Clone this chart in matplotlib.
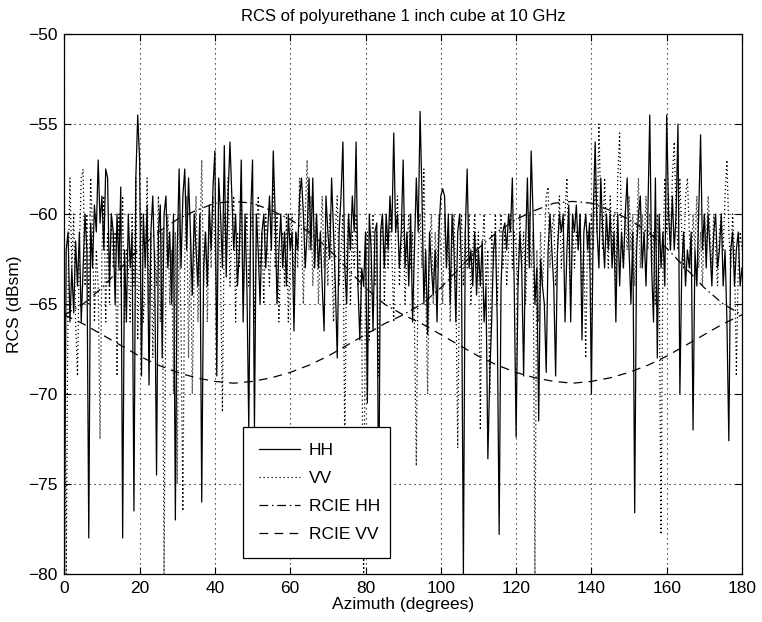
import numpy as np
import matplotlib
matplotlib.use("Agg")
import matplotlib.pyplot as plt

plt.rcParams['font.family'] = ['Liberation Sans', 'DejaVu Sans']

title = "RCS of polyurethane 1 inch cube at 10 GHz"
xlabel = "Azimuth (degrees)"
ylabel = "RCS (dBsm)"
legend_labels = ["HH", "VV", "RCIE HH", "RCIE VV"]
xticks = [0, 20, 40, 60, 80, 100, 120, 140, 160, 180]
yticks = [-80, -75, -70, -65, -60, -55, -50]

# measured data, 0.5 degree steps (0 .. 180)
azimuth = np.linspace(0, 180, 361)
hh = [
    -80, -62, -61, -66, -63, -65.5, -61.5, -64, -61, -66, -63, -60, -62, -78, -60.5, -63, -59.5, -61, -57, -60.5,
    -59, -62, -57.5, -58, -64, -60, -61, -65, -60, -63, -58.5, -78, -62, -66, -60, -63, -61, -76.5, -58, -54.5,
    -57, -69, -60, -63, -59.5, -69.5, -61, -59, -63, -74.5, -61, -59.5, -68, -60, -59, -63, -61, -65, -60, -77,
    -62, -57.5, -63, -59, -57.5, -62, -58, -61, -64.5, -60, -62, -64, -60, -76, -63, -61, -64, -59.5, -62, -58.5,
    -56.5, -69, -58, -60, -63, -56.2, -63.5, -59, -56, -59, -62, -60, -64, -62, -57, -66, -60, -64, -72, -60,
    -57, -72, -60, -62, -65, -61, -60, -63, -61, -59, -62, -56.5, -60, -65, -62, -60, -63, -61, -64, -60,
    -62, -61, -66.5, -61, -62, -59, -58, -60, -63, -61, -58, -62, -58, -63, -60, -63, -61, -64, -66.5, -59,
    -61, -62.5, -58, -61, -64, -68, -61, -59, -56, -63, -65, -60, -62, -59, -61, -56, -64, -67, -63, -64,
    -61, -70.5, -60, -62, -66.5, -61, -60.5, -77, -61, -60, -63, -60, -62, -59, -61, -55.5, -61, -60, -63, -61,
    -57, -63, -61, -64, -60, -66, -62, -58, -61, -54.3, -59, -65, -62, -66.7, -61, -63, -64.5, -62, -66, -61,
    -59, -58.6, -59, -63, -60, -65, -60, -62, -66, -61, -60, -63, -80, -61, -57.5, -63, -62, -64, -61, -64.5,
    -62, -64, -61.5, -66, -64, -73.6, -69, -66, -62, -61, -66, -77.8, -64, -61, -60.5, -62, -60, -61, -58, -64,
    -72.4, -64, -61, -63, -69, -62, -58, -63, -56.5, -60, -65, -63, -71.5, -62.5, -64, -65, -68.8, -62, -60, -62,
    -64, -69, -62, -60, -61, -60, -66, -62, -59.5, -66, -60, -61, -59.5, -62, -60, -67, -61, -60, -62, -60.5,
    -70, -60, -56, -61, -63, -58, -61, -63, -60, -62, -60, -63, -61, -66, -60, -64, -61, -63, -60, -58,
    -62, -65, -61, -76.6, -62, -60, -59, -63, -61, -64, -60, -54.5, -63, -66, -58, -68, -60, -63, -61, -64,
    -54.5, -60, -62, -59, -62, -60, -55, -70, -63, -61, -64, -62, -63, -61, -72, -62, -64, -60, -55.6, -62,
    -60, -63, -60, -62, -64, -61, -60, -63, -62, -60, -64, -62, -66, -72.6, -62, -61, -64, -62, -61, -64,
    -63,
]
vv = [
    -62, -80, -64, -58, -63, -60, -66, -69, -62, -58, -57.5, -64, -60, -65, -58, -61, -66, -62, -64, -72.5,
    -62, -59, -66, -61, -65, -60, -63, -61, -69, -60, -64, -59, -66, -62, -63, -66, -60, -64, -58, -67,
    -62, -60, -66, -63, -58, -65, -61, -68, -62, -64, -59, -66, -61, -80, -63, -60, -65, -62, -70, -61,
    -75, -60, -66, -76.5, -62, -59, -68, -61, -70, -63, -59, -66, -62, -57, -64, -61, -66, -60, -63, -59,
    -62, -65, -60, -63, -71, -60, -62, -58, -64, -61, -59, -66, -61, -63, -59, -65, -62, -60, -64, -61,
    -60, -66, -62, -59, -63, -61, -65, -60, -62, -64, -61, -58, -63, -60, -66, -62, -61, -64, -60, -66,
    -62, -60, -64, -61, -63, -58, -61, -65, -60, -57, -62, -59, -64, -61, -60, -65, -62, -59, -63, -61,
    -64, -60, -62, -66, -61, -59, -64, -62, -60, -73, -62, -60, -65, -61, -63, -60, -64, -62, -66, -80,
    -63, -61, -67, -62, -60, -64, -61, -69, -62, -60, -65, -61, -63, -60, -62, -66, -61, -59, -64, -62,
    -60, -65, -62, -60, -63, -61, -66, -74, -62, -60, -63, -57.5, -64, -70, -62, -60, -65, -61, -63, -60,
    -62, -65, -60, -63, -61, -66, -62, -60, -64, -73, -62, -60, -64, -61, -63, -60, -65, -62, -60, -63,
    -61, -72, -62, -60, -64, -62, -70, -61, -63, -60, -65, -62, -60, -63, -61, -64, -62, -60, -63, -61,
    -62, -64, -60, -63, -61, -65, -62, -60, -63, -61, -80, -62, -66, -61, -64, -62, -59, -58.5, -63, -61,
    -60, -64, -62, -59, -63, -61, -60, -58, -62, -65, -60, -63, -61, -62, -60, -64, -62, -68, -61, -63,
    -60, -62, -58, -61, -55, -60, -62, -58, -61, -63, -59, -62, -60, -64, -58, -55.5, -61, -63, -60, -62,
    -59, -62, -60, -64, -61, -58, -63, -60, -62, -59, -62, -60, -63, -61, -65, -60, -63, -77.8, -62, -58,
    -61, -59, -62, -58, -56, -60, -62, -58, -61, -63, -59, -58, -61, -63, -60, -62, -59, -63, -61, -64,
    -60, -62, -59, -61, -63, -60, -62, -64, -61, -60, -62, -59, -57, -61, -63, -60, -62, -69, -63, -61,
    -62,
]

# RCIE predictions, 5 degree steps
rcie_az = np.arange(0, 181, 5)
rcie_hh = [
    -65.6, -65.0, -64.1, -63.0, -61.9, -61.0, -60.3, -59.8, -59.4, -59.3, -59.4, -59.8, -60.3, -61.0, -61.9,
    -63.0, -64.1, -65.0, -65.6, -65.0, -64.1, -63.0, -61.9, -61.0, -60.3, -59.8, -59.4, -59.3, -59.4, -59.8,
    -60.3, -61.0, -61.9, -63.0, -64.1, -65.0, -65.6,
]
rcie_vv = [
    -65.6, -66.1, -66.7, -67.3, -67.9, -68.4, -68.8, -69.1, -69.3, -69.4, -69.3, -69.1, -68.8, -68.4, -67.9,
    -67.3, -66.7, -66.1, -65.6, -66.1, -66.7, -67.3, -67.9, -68.4, -68.8, -69.1, -69.3, -69.4, -69.3, -69.1,
    -68.8, -68.4, -67.9, -67.3, -66.7, -66.1, -65.6,
]

fig = plt.figure(figsize=(7.62, 6.22), dpi=100)
ax = fig.add_axes([64.3 / 762, 1 - 574 / 622, (742 - 64.3) / 762, (574 - 34) / 622])

ax.plot(azimuth, hh, color='k', linewidth=0.9, linestyle='-', label=legend_labels[0])
ax.plot(azimuth, vv, color='k', linewidth=0.9, linestyle=(0, (1, 2.2)), label=legend_labels[1])
ax.plot(rcie_az, rcie_hh, color='k', linewidth=0.9, linestyle=(0, (7, 3, 1.2, 3)), label=legend_labels[2])
ax.plot(rcie_az, rcie_vv, color='k', linewidth=0.9, linestyle=(0, (7, 5)), label=legend_labels[3])

ax.set_xlim(0, 180)
ax.set_ylim(-80, -50)
ax.set_xticks(xticks)
ax.set_yticks(yticks)
ax.grid(True, color='k', linestyle=(0, (1, 3.5)), linewidth=0.8)
ax.tick_params(direction='in', length=5, width=0.8, top=True, right=True, labelsize=12.5, pad=5)
for s in ax.spines.values():
    s.set_linewidth(0.9)

ax.set_title(title, fontsize=12, pad=9)
ax.set_xlabel(xlabel, fontsize=12.5, labelpad=1)
ax.set_ylabel(ylabel, fontsize=12.5, labelpad=4)

leg = ax.legend(loc='lower left', bbox_to_anchor=(0.2637, 0.0296, 0.2169, 0.2741), mode='expand',
                fontsize=12.5, frameon=True, fancybox=False, edgecolor='k', framealpha=1,
                handlelength=2.4, handletextpad=0.5, borderpad=0.9, labelspacing=0.75, borderaxespad=0)
leg.get_frame().set_linewidth(0.9)

fig.savefig("out.png", dpi=100, facecolor='white')
